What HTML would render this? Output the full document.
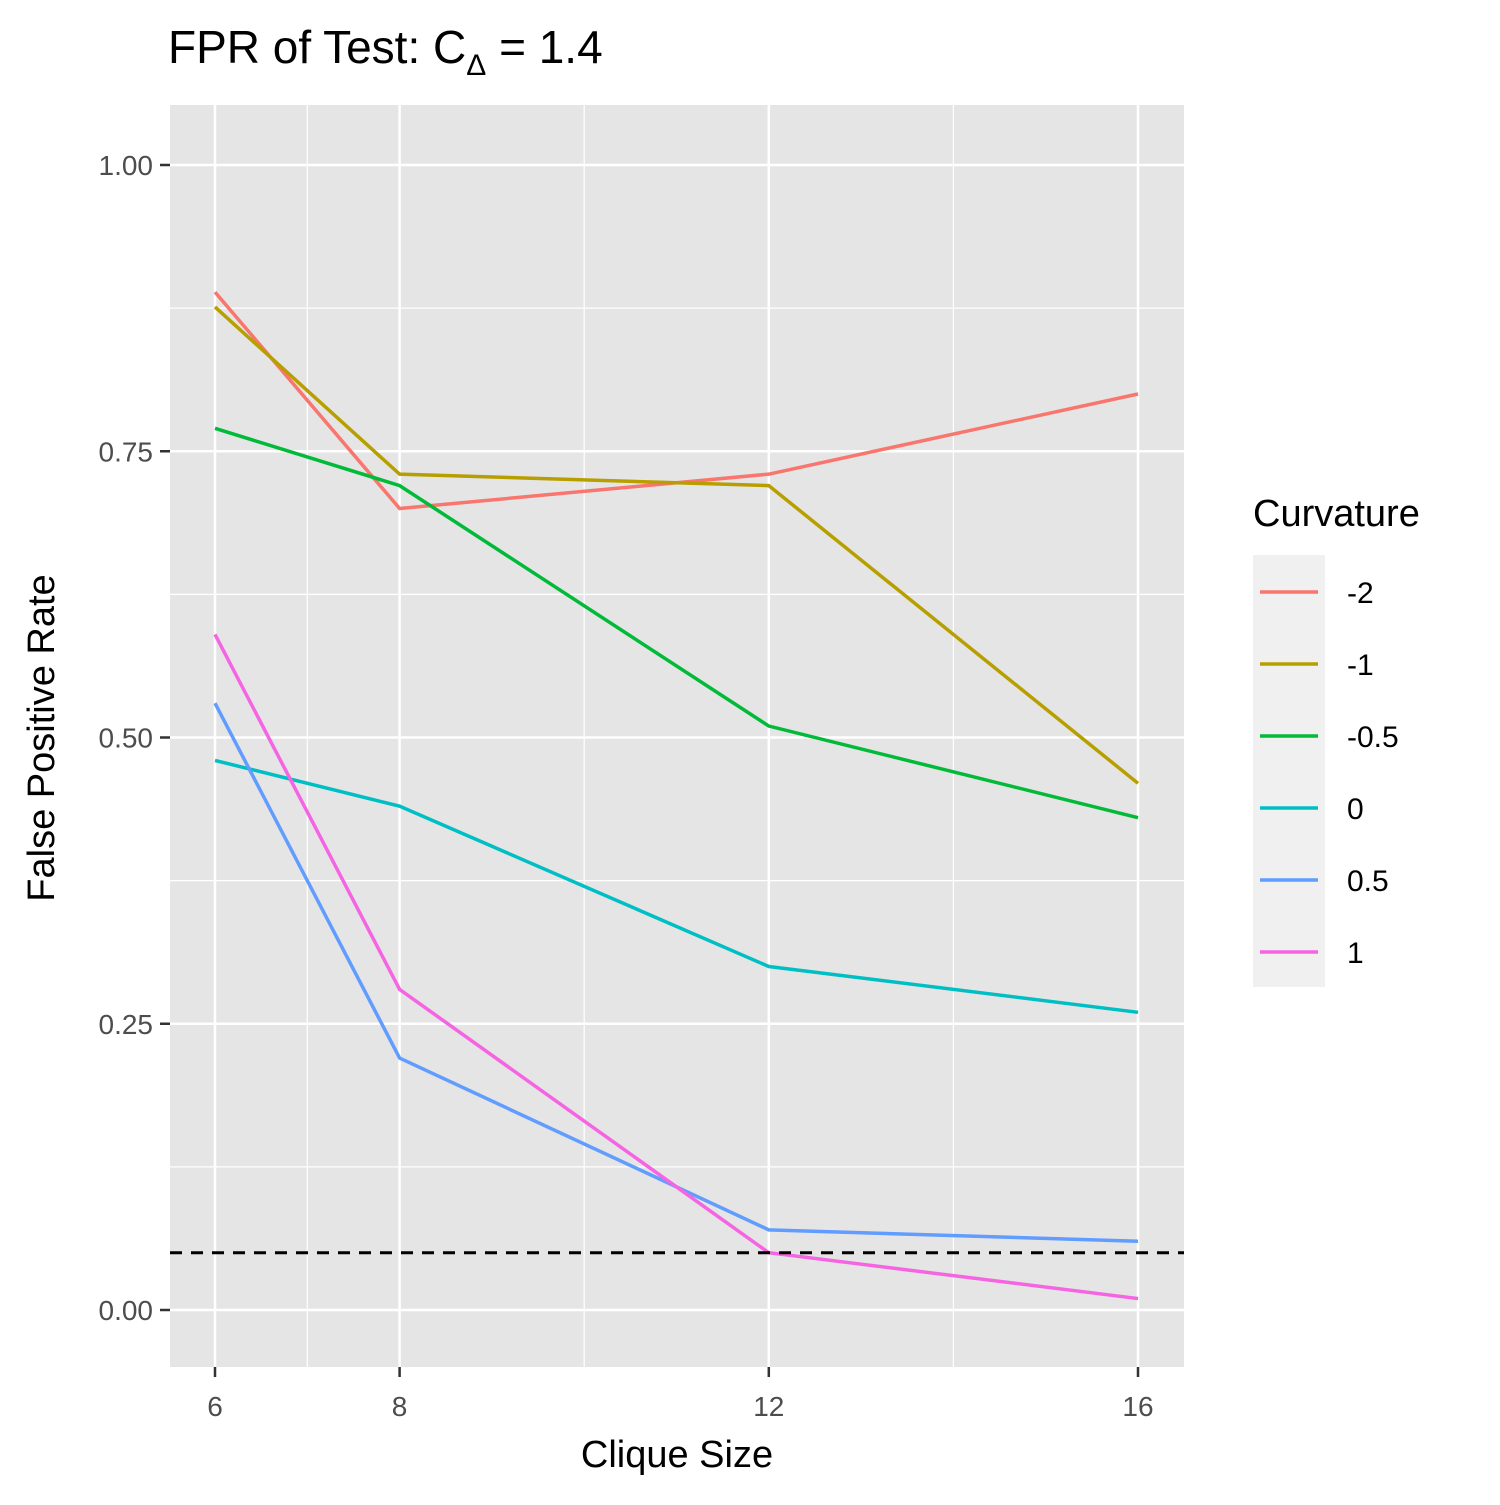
<!DOCTYPE html>
<html><head><meta charset="utf-8"><style>
html,body{margin:0;padding:0;background:#fff}
text{font-family:"Liberation Sans",Arial,sans-serif}
</style></head><body>
<svg id="chart" width="1500" height="1500" viewBox="0 0 1500 1500" xmlns="http://www.w3.org/2000/svg">
<rect width="1500" height="1500" fill="#fff"/>
<text x="168" y="63" font-size="46" fill="#000">FPR of Test: C<tspan font-size="30" dy="12">Δ</tspan><tspan dy="-12"> = 1.4</tspan></text>
<rect x="170" y="105" width="1014" height="1262" fill="#e5e5e5"/>
<g id="grid"></g>
<g id="series"></g>
<g id="axes"></g>
<text x="677" y="1467" font-size="38" text-anchor="middle" fill="#000">Clique Size</text>
<text transform="translate(54,738) rotate(-90)" font-size="38" text-anchor="middle" fill="#000">False Positive Rate</text>
<g id="legend"></g>
</svg>
<script>
const xCats = [6, 8, 12, 16];
const seriesNames = ["-2", "-1", "-0.5", "0", "0.5", "1"];
const seriesColors = ["#F8766D", "#B79F00", "#00BA38", "#00BFC4", "#619CFF", "#F564E3"];
const sNeg2 = [0.889, 0.70, 0.73, 0.80];
const sNeg1 = [0.876, 0.73, 0.72, 0.46];
const sNeg05 = [0.77, 0.72, 0.51, 0.43];
const sZero = [0.48, 0.44, 0.30, 0.26];
const sPos05 = [0.53, 0.22, 0.07, 0.06];
const sPos1 = [0.59, 0.28, 0.05, 0.01];
const yTicks = [0, 0.25, 0.5, 0.75, 1];
const yTickLabels = ["0.00", "0.25", "0.50", "0.75", "1.00"];
const xTicks = [6, 8, 12, 16];
const xMinor = [7, 10, 14];
const refLine = 0.05;

const allSeries = [sNeg2, sNeg1, sNeg05, sZero, sPos05, sPos1];
const NS = "http://www.w3.org/2000/svg";
function X(v){ return 215 + (v - 6) * (1138 - 215) / 10; }
function Y(v){ return 1310 - v * (1310 - 165); }
function mk(tag, attrs, parent){
  const e = document.createElementNS(NS, tag);
  for (const k in attrs) e.setAttribute(k, attrs[k]);
  parent.appendChild(e); return e;
}
const grid = document.getElementById('grid');
const axes = document.getElementById('axes');
for (let i = 0; i < yTicks.length - 1; i++) {
  const m = (yTicks[i] + yTicks[i+1]) / 2;
  const l = mk('line', {x1:170, x2:1184, y1:Y(m), y2:Y(m), stroke:'#fff', 'stroke-width':1.2}, grid);
  
  
}
xMinor.forEach(v => {
  const l = mk('line', {x1:X(v), x2:X(v), y1:105, y2:1367, stroke:'#fff', 'stroke-width':1.2}, grid);
  
  
});
yTicks.forEach((v, i) => {
  const l = mk('line', {x1:170, x2:1184, y1:Y(v), y2:Y(v), stroke:'#fff', 'stroke-width':2.5}, grid);
  
  
  const t = mk('line', {x1:160, x2:170, y1:Y(v), y2:Y(v), stroke:'#333', 'stroke-width':2.5}, axes);
  
  
  const tx = mk('text', {x:153, y:Y(v)+10, 'font-size':28, fill:'#4d4d4d', 'text-anchor':'end'}, axes);
  tx.textContent = yTickLabels[i];
  
  
});
xTicks.forEach(v => {
  const l = mk('line', {x1:X(v), x2:X(v), y1:105, y2:1367, stroke:'#fff', 'stroke-width':2.5}, grid);
  
  
  const t = mk('line', {x1:X(v), x2:X(v), y1:1367, y2:1377, stroke:'#333', 'stroke-width':2.5}, axes);
  
  
  const tx = mk('text', {x:X(v), y:1416, 'font-size':28, fill:'#4d4d4d', 'text-anchor':'middle'}, axes);
  tx.textContent = v;
  
  
});
const sg = document.getElementById('series');
allSeries.forEach((s, i) => {
  const p = mk('polyline', {points: s.map((v, j) => X(xCats[j]) + ',' + Y(v)).join(' '), fill:'none', stroke:seriesColors[i], 'stroke-width':3.5}, sg);
  
  
});
const rl = mk('line', {x1:170, x2:1184, y1:Y(refLine), y2:Y(refLine), stroke:'#000', 'stroke-width':3, 'stroke-dasharray':'12,9'}, sg);


const lg = document.getElementById('legend');
const lt = mk('text', {x:1253, y:526, 'font-size':38, fill:'#000'}, lg);
lt.textContent = 'Curvature';


const lb = mk('rect', {x:1253, y:555, width:72, height:432, fill:'#f0f0f0'}, lg);


seriesNames.forEach((n, i) => {
  const cy = 592 + i * 72;
  const k = mk('line', {x1:1260, x2:1318, y1:cy, y2:cy, stroke:seriesColors[i], 'stroke-width':3.5}, lg);
  
  
  const t = mk('text', {x:1347, y:cy+11, 'font-size':30, fill:'#000'}, lg);
  t.textContent = n;
  
  
});
</script>
</body></html>
